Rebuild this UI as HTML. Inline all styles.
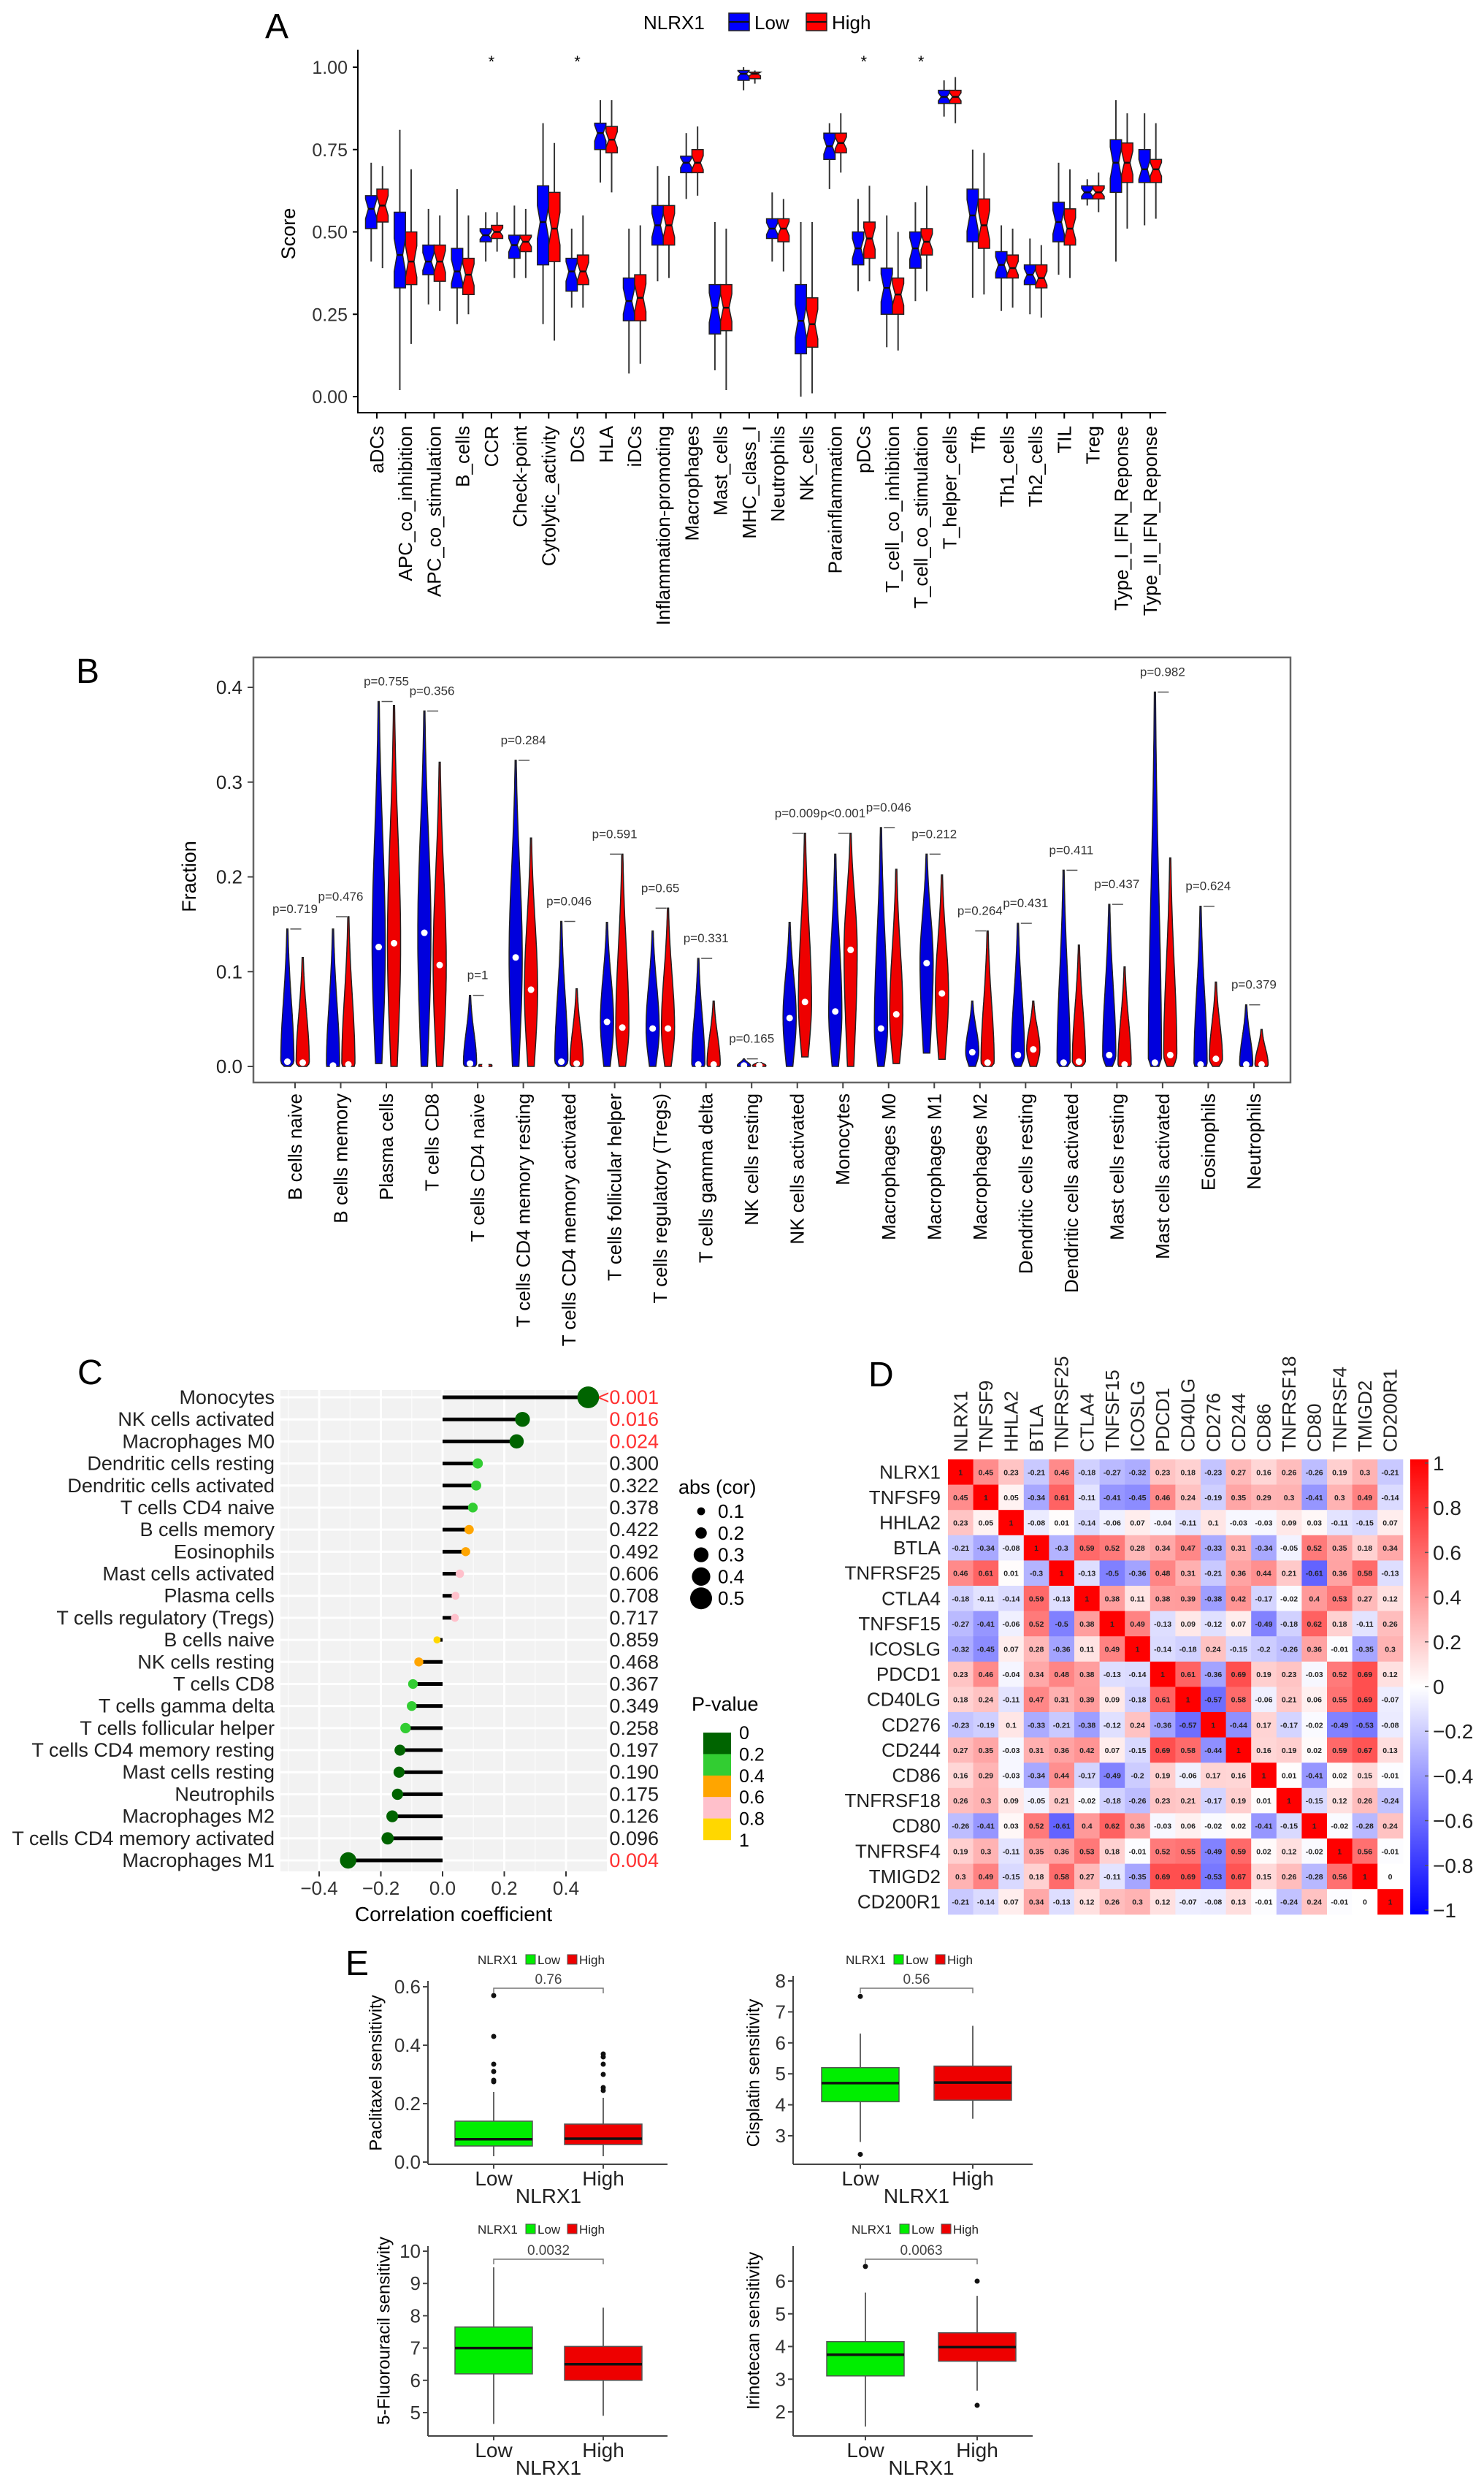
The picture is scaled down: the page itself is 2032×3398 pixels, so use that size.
<!DOCTYPE html>
<html><head><meta charset="utf-8"><style>
html,body{margin:0;padding:0;background:#fff;}
svg{display:block;font-family:"Liberation Sans",Arial,sans-serif;}
</style></head><body>
<svg id="fig" xmlns="http://www.w3.org/2000/svg" width="2032" height="3398" viewBox="0 0 2032 3398">
<rect x="0" y="0" width="2032" height="3398" fill="#fff"/>
</svg>
<script>
// ---------- Panel A data ----------
const aCats=["aDCs","APC_co_inhibition","APC_co_stimulation","B_cells","CCR","Check-point","Cytolytic_activity","DCs","HLA","iDCs","Inflammation-promoting","Macrophages","Mast_cells","MHC_class_I","Neutrophils","NK_cells","Parainflammation","pDCs","T_cell_co_inhibition","T_cell_co_stimulation","T_helper_cells","Tfh","Th1_cells","Th2_cells","TIL","Treg","Type_I_IFN_Reponse","Type_II_IFN_Reponse"];
const aLowQ1=[0.51,0.33,0.37,0.33,0.47,0.42,0.40,0.32,0.75,0.23,0.46,0.68,0.19,0.96,0.48,0.13,0.72,0.40,0.25,0.39,0.89,0.47,0.36,0.34,0.47,0.60,0.62,0.65];
const aLowMed=[0.57,0.43,0.41,0.38,0.49,0.46,0.53,0.38,0.80,0.29,0.52,0.71,0.27,0.98,0.51,0.23,0.76,0.45,0.33,0.45,0.91,0.55,0.40,0.37,0.53,0.62,0.71,0.69];
const aLowQ3=[0.61,0.56,0.46,0.45,0.51,0.49,0.64,0.42,0.83,0.36,0.58,0.73,0.34,0.99,0.54,0.34,0.80,0.50,0.39,0.50,0.93,0.63,0.44,0.40,0.59,0.64,0.78,0.75];
const aLowMin=[0.41,0.02,0.28,0.22,0.41,0.36,0.22,0.27,0.65,0.07,0.35,0.60,0.08,0.93,0.41,0.00,0.63,0.32,0.15,0.29,0.85,0.30,0.26,0.25,0.37,0.58,0.41,0.52];
const aLowMax=[0.71,0.81,0.57,0.63,0.56,0.58,0.83,0.51,0.90,0.51,0.70,0.80,0.53,1.00,0.62,0.53,0.83,0.60,0.55,0.59,0.96,0.75,0.52,0.48,0.71,0.66,0.90,0.86];
const aHighQ1=[0.53,0.34,0.35,0.31,0.48,0.44,0.41,0.34,0.74,0.23,0.46,0.68,0.20,0.965,0.47,0.15,0.74,0.42,0.25,0.43,0.89,0.45,0.36,0.33,0.46,0.60,0.65,0.65];
const aHighMed=[0.58,0.41,0.41,0.37,0.50,0.47,0.51,0.38,0.78,0.30,0.52,0.71,0.27,0.98,0.51,0.22,0.77,0.48,0.31,0.47,0.91,0.52,0.39,0.36,0.51,0.62,0.71,0.69];
const aHighQ3=[0.63,0.50,0.46,0.42,0.52,0.49,0.62,0.43,0.82,0.37,0.58,0.75,0.34,0.985,0.54,0.30,0.80,0.53,0.36,0.51,0.93,0.60,0.43,0.40,0.57,0.64,0.77,0.72];
const aHighMin=[0.39,0.16,0.26,0.25,0.44,0.36,0.17,0.27,0.62,0.10,0.36,0.61,0.02,0.95,0.38,0.01,0.68,0.35,0.14,0.32,0.83,0.31,0.27,0.24,0.36,0.56,0.51,0.54];
const aHighMax=[0.70,0.69,0.55,0.55,0.56,0.57,0.77,0.55,0.90,0.52,0.67,0.82,0.51,0.99,0.60,0.53,0.86,0.64,0.50,0.64,0.97,0.74,0.51,0.46,0.69,0.68,0.86,0.83];
const aStars=[4,7,17,19];
const aTicks=[0,0.25,0.5,0.75,1];
const aTickLabels=["0.00","0.25","0.50","0.75","1.00"];

// ---------- Panel B data ----------
const bCats=["B cells naive","B cells memory","Plasma cells","T cells CD8","T cells CD4 naive","T cells CD4 memory resting","T cells CD4 memory activated","T cells follicular helper","T cells regulatory (Tregs)","T cells gamma delta","NK cells resting","NK cells activated","Monocytes","Macrophages M0","Macrophages M1","Macrophages M2","Dendritic cells resting","Dendritic cells activated","Mast cells resting","Mast cells activated","Eosinophils","Neutrophils"];
const bBlueMax=[0.145,0.145,0.385,0.375,0.075,0.323,0.153,0.152,0.143,0.114,0.008,0.152,0.224,0.252,0.224,0.069,0.151,0.207,0.171,0.395,0.169,0.065];
const bBlueMed=[0.005,0.001,0.126,0.141,0.003,0.115,0.005,0.047,0.040,0.002,0.001,0.051,0.058,0.040,0.109,0.015,0.012,0.004,0.012,0.004,0.002,0.002];
const bBlueMin=[0,0,0.003,0,0,0,0,0,0,0,0,0,0,0,0.014,0,0,0,0,0,0,0];
const bRedMax=[0.115,0.158,0.381,0.321,0.002,0.241,0.082,0.224,0.167,0.069,0.004,0.246,0.246,0.208,0.202,0.143,0.069,0.128,0.105,0.220,0.089,0.039];
const bRedMed=[0.004,0.002,0.130,0.107,0.001,0.081,0.003,0.041,0.040,0.002,0.001,0.068,0.123,0.055,0.077,0.004,0.018,0.005,0.002,0.012,0.008,0.002];
const bRedMin=[0,0,0,0,0,0,0,0,0,0,0,0.01,0,0.003,0.0075,0,0,0,0,0,0,0];
const bP=["p=0.719","p=0.476","p=0.755","p=0.356","p=1","p=0.284","p=0.046","p=0.591","p=0.65","p=0.331","p=0.165","p=0.009","p<0.001","p=0.046","p=0.212","p=0.264","p=0.431","p=0.411","p=0.437","p=0.982","p=0.624","p=0.379"];
const bTicks=[0,0.1,0.2,0.3,0.4];

// ---------- Panel C data ----------
const cCats=["Monocytes","NK cells activated","Macrophages M0","Dendritic cells resting","Dendritic cells activated","T cells CD4 naive","B cells memory","Eosinophils","Mast cells activated","Plasma cells","T cells regulatory (Tregs)","B cells naive","NK cells resting","T cells CD8","T cells gamma delta","T cells follicular helper","T cells CD4 memory resting","Mast cells resting","Neutrophils","Macrophages M2","T cells CD4 memory activated","Macrophages M1"];
const cCor=[0.472,0.259,0.24,0.114,0.109,0.098,0.086,0.075,0.056,0.042,0.04,-0.018,-0.077,-0.096,-0.1,-0.12,-0.138,-0.141,-0.146,-0.163,-0.178,-0.306];
const cP=[0.0005,0.016,0.024,0.300,0.322,0.378,0.422,0.492,0.606,0.708,0.717,0.859,0.468,0.367,0.349,0.258,0.197,0.190,0.175,0.126,0.096,0.004];
const cPText=["<0.001","0.016","0.024","0.300","0.322","0.378","0.422","0.492","0.606","0.708","0.717","0.859","0.468","0.367","0.349","0.258","0.197","0.190","0.175","0.126","0.096","0.004"];
const cTicks=[-0.4,-0.2,0,0.2,0.4];
const cSizeLegend=[0.1,0.2,0.3,0.4,0.5];
const cPLegend=["0","0.2","0.4","0.6","0.8","1"];

// ---------- Panel D data ----------
const dGenes=["NLRX1","TNFSF9","HHLA2","BTLA","TNFRSF25","CTLA4","TNFSF15","ICOSLG","PDCD1","CD40LG","CD276","CD244","CD86","TNFRSF18","CD80","TNFRSF4","TMIGD2","CD200R1"];
const dRow0=[1,0.45,0.23,-0.21,0.46,-0.18,-0.27,-0.32,0.23,0.18,-0.23,0.27,0.16,0.26,-0.26,0.19,0.3,-0.21];
const dRow1=[0.45,1,0.05,-0.34,0.61,-0.11,-0.41,-0.45,0.46,0.24,-0.19,0.35,0.29,0.3,-0.41,0.3,0.49,-0.14];
const dRow2=[0.23,0.05,1,-0.08,0.01,-0.14,-0.06,0.07,-0.04,-0.11,0.1,-0.03,-0.03,0.09,0.03,-0.11,-0.15,0.07];
const dRow3=[-0.21,-0.34,-0.08,1,-0.3,0.59,0.52,0.28,0.34,0.47,-0.33,0.31,-0.34,-0.05,0.52,0.35,0.18,0.34];
const dRow4=[0.46,0.61,0.01,-0.3,1,-0.13,-0.5,-0.36,0.48,0.31,-0.21,0.36,0.44,0.21,-0.61,0.36,0.58,-0.13];
const dRow5=[-0.18,-0.11,-0.14,0.59,-0.13,1,0.38,0.11,0.38,0.39,-0.38,0.42,-0.17,-0.02,0.4,0.53,0.27,0.12];
const dRow6=[-0.27,-0.41,-0.06,0.52,-0.5,0.38,1,0.49,-0.13,0.09,-0.12,0.07,-0.49,-0.18,0.62,0.18,-0.11,0.26];
const dRow7=[-0.32,-0.45,0.07,0.28,-0.36,0.11,0.49,1,-0.14,-0.18,0.24,-0.15,-0.2,-0.26,0.36,-0.01,-0.35,0.3];
const dRow8=[0.23,0.46,-0.04,0.34,0.48,0.38,-0.13,-0.14,1,0.61,-0.36,0.69,0.19,0.23,-0.03,0.52,0.69,0.12];
const dRow9=[0.18,0.24,-0.11,0.47,0.31,0.39,0.09,-0.18,0.61,1,-0.57,0.58,-0.06,0.21,0.06,0.55,0.69,-0.07];
const dRow10=[-0.23,-0.19,0.1,-0.33,-0.21,-0.38,-0.12,0.24,-0.36,-0.57,1,-0.44,0.17,-0.17,-0.02,-0.49,-0.53,-0.08];
const dRow11=[0.27,0.35,-0.03,0.31,0.36,0.42,0.07,-0.15,0.69,0.58,-0.44,1,0.16,0.19,0.02,0.59,0.67,0.13];
const dRow12=[0.16,0.29,-0.03,-0.34,0.44,-0.17,-0.49,-0.2,0.19,-0.06,0.17,0.16,1,0.01,-0.41,0.02,0.15,-0.01];
const dRow13=[0.26,0.3,0.09,-0.05,0.21,-0.02,-0.18,-0.26,0.23,0.21,-0.17,0.19,0.01,1,-0.15,0.12,0.26,-0.24];
const dRow14=[-0.26,-0.41,0.03,0.52,-0.61,0.4,0.62,0.36,-0.03,0.06,-0.02,0.02,-0.41,-0.15,1,-0.02,-0.28,0.24];
const dRow15=[0.19,0.3,-0.11,0.35,0.36,0.53,0.18,-0.01,0.52,0.55,-0.49,0.59,0.02,0.12,-0.02,1,0.56,-0.01];
const dRow16=[0.3,0.49,-0.15,0.18,0.58,0.27,-0.11,-0.35,0.69,0.69,-0.53,0.67,0.15,0.26,-0.28,0.56,1,0];
const dRow17=[-0.21,-0.14,0.07,0.34,-0.13,0.12,0.26,0.3,0.12,-0.07,-0.08,0.13,-0.01,-0.24,0.24,-0.01,0,1];
const dMatrix=[dRow0,dRow1,dRow2,dRow3,dRow4,dRow5,dRow6,dRow7,dRow8,dRow9,dRow10,dRow11,dRow12,dRow13,dRow14,dRow15,dRow16,dRow17];
const dBarTicks=[1,0.8,0.6,0.4,0.2,0,-0.2,-0.4,-0.6,-0.8,-1];

// ---------- Panel E data ----------
const eDrugs=["Paclitaxel","Cisplatin","5-Fluorouracil","Irinotecan"];
const eLowQ1=[0.055,4.1,6.2,3.1];
const eLowMed=[0.078,4.7,7.0,3.75];
const eLowQ3=[0.14,5.2,7.65,4.15];
const eLowMin=[0.02,2.8,4.65,1.55];
const eLowMax=[0.24,6.3,9.5,5.65];
const eHighQ1=[0.06,4.15,6.0,3.55];
const eHighMed=[0.08,4.72,6.5,3.98];
const eHighQ3=[0.13,5.25,7.05,4.42];
const eHighMin=[0.02,3.55,4.9,2.65];
const eHighMax=[0.22,6.55,8.25,5.55];
const eLowOut=[[0.57,0.43,0.335,0.31,0.28,0.275],[7.5,2.4],[],[6.45]];
const eHighOut=[[0.37,0.36,0.335,0.30,0.255,0.245],[],[],[6.0,2.2]];
const ePval=["0.76","0.56","0.0032","0.0063"];
const eTicks=[[0,0.2,0.4,0.6],[3,4,5,6,7,8],[5,6,7,8,9,10],[2,3,4,5,6]];
const eTickLabels=[["0.0","0.2","0.4","0.6"],["3","4","5","6","7","8"],["5","6","7","8","9","10"],["2","3","4","5","6"]];

// ---------- helpers ----------
const NS="http://www.w3.org/2000/svg";
const svg=document.getElementById('fig');
function mk(tag,attrs,parent){const e=document.createElementNS(NS,tag);for(const k in attrs)e.setAttribute(k,attrs[k]);(parent||svg).appendChild(e);return e;}
function txt(s,attrs,parent){const e=mk('text',attrs,parent);e.textContent=s;return e;}
function grp(parent){return mk('g',{},parent);}

// panel letters
[["A",363,52],["B",104,935],["C",106,1895],["D",1189,1898],["E",473,2704]].forEach(p=>{
  const t=txt(p[0],{x:p[1],y:p[2],'font-size':48,fill:'#000'});
  
  
});

// ================= PANEL A =================
(function(){
  const g=grp();
  
  
  const y=v=>543-v*451;
  const x=i=>516+i*39.22;
  const W=15.5;
  // legend
  const lg=grp(g);
  
  
  txt("NLRX1",{x:881,y:40,'font-size':26,fill:'#000'},lg);
  const lb=mk('rect',{x:998,y:18,width:28,height:24,fill:'#0000ff',stroke:'#222','stroke-width':1.5},lg);
  
  
  mk('line',{x1:998,y1:30,x2:1026,y2:30,stroke:'#111','stroke-width':2},lg);
  txt("Low",{x:1033,y:40,'font-size':26},lg);
  const lr=mk('rect',{x:1104,y:18,width:28,height:24,fill:'#ff0000',stroke:'#222','stroke-width':1.5},lg);
  
  
  mk('line',{x1:1104,y1:30,x2:1132,y2:30,stroke:'#111','stroke-width':2},lg);
  txt("High",{x:1139,y:40,'font-size':26},lg);
  // axes
  const ya=mk('line',{x1:490,y1:68,x2:490,y2:566,stroke:'#000','stroke-width':2},g);
  
  
  const xa=mk('line',{x1:489,y1:565,x2:1597,y2:565,stroke:'#000','stroke-width':2},g);
  
  
  aTicks.forEach((v,k)=>{
    mk('line',{x1:483,y1:y(v),x2:490,y2:y(v),stroke:'#000','stroke-width':2},g);
    const t=txt(aTickLabels[k],{x:476,y:y(v)+9,'font-size':25,'text-anchor':'end',fill:'#333'},g);
    
    
  });
  const yt=txt("Score",{x:395,y:320,'font-size':27,'text-anchor':'middle','dominant-baseline':'central',transform:'rotate(-90 395 320)'},g);
  
  
  function box(x0,x1,q1,med,q3,mn,mx,col,parent){
    const xc=(x0+x1)/2, ind=(x1-x0)*0.25;
    const n=Math.min(0.3*(q3-q1),0.05);
    const yu=Math.max(y(med+n),y(q3)), yl=Math.min(y(med-n),y(q1)), ym=y(med);
    mk('line',{x1:xc,y1:y(mx),x2:xc,y2:y(q3),stroke:'#333','stroke-width':2},parent);
    mk('line',{x1:xc,y1:y(q1),x2:xc,y2:y(mn),stroke:'#333','stroke-width':2},parent);
    const d=`M${x0},${y(q3)}L${x1},${y(q3)}L${x1},${yu}L${x1-ind},${ym}L${x1},${yl}L${x1},${y(q1)}L${x0},${y(q1)}L${x0},${yl}L${x0+ind},${ym}L${x0},${yu}Z`;
    const p=mk('path',{d:d,fill:col,stroke:'#222','stroke-width':1.5},parent);
    mk('line',{x1:x0+ind,y1:ym,x2:x1-ind,y2:ym,stroke:'#111','stroke-width':2.5},parent);
    return p;
  }
  aCats.forEach((c,i)=>{
    const cx=x(i);
    const cg=grp(g);
    
    
    const b1=box(cx-W,cx,aLowQ1[i],aLowMed[i],aLowQ3[i],aLowMin[i],aLowMax[i],'#0000ff',cg);
    
    
    const b2=box(cx,cx+W,aHighQ1[i],aHighMed[i],aHighQ3[i],aHighMin[i],aHighMax[i],'#ff0000',cg);
    
    
    mk('line',{x1:cx,y1:565,x2:cx,y2:573,stroke:'#000','stroke-width':2},g);
    const t=txt(c,{x:cx,y:583,'font-size':26,'text-anchor':'end','dominant-baseline':'central',transform:`rotate(-90 ${cx} 583)`},g);
    
    
  });
  aStars.forEach(i=>{
    const s=txt("*",{x:x(i),y:92,'font-size':22,'text-anchor':'middle'},g);
    
    
  });
})();

// ================= PANEL B =================
(function(){
  const g=grp();
  
  
  const y=v=>1460-v*1297.5;
  const x=i=>404+i*62.52;
  const fr=mk('rect',{x:347,y:900,width:1420,height:582,fill:'none',stroke:'#666','stroke-width':2.5},g);
  
  
  bTicks.forEach(v=>{
    mk('line',{x1:339,y1:y(v),x2:347,y2:y(v),stroke:'#444','stroke-width':2},g);
    const t=txt(v.toFixed(1),{x:332,y:y(v)+9,'font-size':26,'text-anchor':'end',fill:'#222'},g);
    
    
  });
  const yt=txt("Fraction",{x:259,y:1200,'font-size':27,'text-anchor':'middle','dominant-baseline':'central',transform:'rotate(-90 259 1200)'},g);
  
  
  function violin(cx,mn,med,mx,col,parent){
    const N=48, Wd=9;
    const sU=Math.max((mx-med)/2.2,0.002), sL=Math.max((med-mn)/1.2,0.004);
    const R=[],L=[];
    for(let k=0;k<=N;k++){
      const v=mn+(mx-mn)*k/N;
      const s=v>med?sU:sL;
      const w=Math.max(Wd*Math.exp(-0.5*Math.pow((v-med)/s,2)),0.6);
      R.push([cx+w,y(v)]);L.push([cx-w,y(v)]);
    }
    let d='M'+R.map(p=>p[0].toFixed(1)+','+p[1].toFixed(1)).join('L');
    d+='L'+L.reverse().map(p=>p[0].toFixed(1)+','+p[1].toFixed(1)).join('L')+'Z';
    return mk('path',{d:d,fill:col,stroke:'#222','stroke-width':1.5},parent);
  }
  bCats.forEach((c,i)=>{
    const cx=x(i), bx=cx-10.5, rx=cx+10.5;
    const cg=grp(g);
    
    
    const v1=violin(bx,bBlueMin[i],bBlueMed[i],bBlueMax[i],'#0000dd',cg);
    
    
    const v2=violin(rx,bRedMin[i],bRedMed[i],bRedMax[i],'#ee0000',cg);
    
    
    const d1=mk('circle',{cx:bx,cy:y(bBlueMed[i]),r:4.5,fill:'#fff'},cg);
    
    
    const d2=mk('circle',{cx:rx,cy:y(bRedMed[i]),r:4.5,fill:'#fff'},cg);
    
    
    const top=Math.max(bBlueMax[i],bRedMax[i]);
    mk('line',{x1:bx+4,y1:y(top),x2:rx-2,y2:y(top),stroke:'#555','stroke-width':1.5},cg);
    const pt=txt(bP[i],{x:cx,y:y(top)-22,'font-size':17,'text-anchor':'middle',fill:'#333'},cg);
    
    
    mk('line',{x1:cx,y1:1482,x2:cx,y2:1490,stroke:'#444','stroke-width':2},g);
    const t=txt(c,{x:cx,y:1497,'font-size':26,'text-anchor':'end','dominant-baseline':'central',transform:`rotate(-90 ${cx} 1497)`},g);
    
    
  });
})();

// ================= PANEL C =================
(function(){
  const g=grp();
  
  
  const x=v=>606+v*422.5;
  const y=i=>1913+i*30.19;
  const bg=mk('rect',{x:384,y:1903,width:447,height:659,fill:'#f2f2f2'},g);
  
  
  [-0.5,-0.3,-0.1,0.1,0.3].forEach(v=>{if(x(v)>384)mk('line',{x1:x(v),y1:1903,x2:x(v),y2:2562,stroke:'#fafafa','stroke-width':1.5},g);});
  cTicks.forEach(v=>mk('line',{x1:x(v),y1:1903,x2:x(v),y2:2562,stroke:'#fff','stroke-width':3},g));
  cCats.forEach((c,i)=>mk('line',{x1:384,y1:y(i),x2:831,y2:y(i),stroke:'#fff','stroke-width':3},g));
  const colFor=p=>p<0.2?'#006400':p<0.4?'#32cd32':p<0.6?'#ffa500':p<0.8?'#ffc0cb':'#ffd700';
  cCats.forEach((c,i)=>{
    const r=grp(g);
    
    
    mk('line',{x1:x(0),y1:y(i),x2:x(cCor[i]),y2:y(i),stroke:'#000','stroke-width':5},r);
    const dot=mk('circle',{cx:x(cCor[i]),cy:y(i),r:4.5+22*Math.abs(cCor[i]),fill:colFor(cP[i])},r);
    
    
    const lab=txt(c,{x:376,y:y(i)+9,'font-size':27,'text-anchor':'end',fill:'#222'},g);
    
    
    const pv=txt(cPText[i],{x:902,y:y(i)+9,'font-size':27,'text-anchor':'end',fill:cP[i]<0.05?'#ff3030':'#222'},g);
    
    
  });
  cTicks.forEach(v=>{
    mk('line',{x1:x(v),y1:2562,x2:x(v),y2:2569,stroke:'#333','stroke-width':2},g);
    const t=txt((v<0?'\u2212':'')+Math.abs(v).toFixed(1),{x:x(v),y:2594,'font-size':26,'text-anchor':'middle',fill:'#333'},g);
    
    
  });
  const xt=txt("Correlation coefficient",{x:621,y:2630,'font-size':28,'text-anchor':'middle'},g);
  
  
  // size legend
  const sl=grp(g);
  
  
  txt("abs (cor)",{x:929,y:2045,'font-size':27},sl);
  cSizeLegend.forEach((v,k)=>{
    const yy=2069+k*29.8;
    mk('circle',{cx:960,cy:yy,r:1.5+27*v*0.5+ (v*0),fill:'#000'},sl).setAttribute('r',(3+24*v).toFixed(1));
    txt(v.toFixed(1),{x:983,y:yy+9,'font-size':26},sl);
  });
  // p legend
  const pl=grp(g);
  
  
  txt("P-value",{x:947,y:2342,'font-size':27},pl);
  ['#006400','#32cd32','#ffa500','#ffc0cb','#ffd700'].forEach((c,k)=>mk('rect',{x:963,y:2372+k*29.4,width:38,height:29.6,fill:c},pl));
  cPLegend.forEach((s,k)=>txt(s,{x:1012,y:2372+k*29.4+9,'font-size':25},pl));
})();

// ================= PANEL D =================
(function(){
  const g=grp();
  
  
  const x0=1298,y0=1998,cw=34.6,ch=34.6;
  function col(v){
    const t=Math.min(1,Math.abs(v));
    const c=Math.round(255*(1-t));
    return v>=0?`rgb(255,${c},${c})`:`rgb(${c},${c},255)`;
  }
  dMatrix.forEach((row,i)=>{
    row.forEach((v,j)=>{
      const r=mk('rect',{x:x0+j*cw,y:y0+i*ch,width:cw+0.5,height:ch+0.5,fill:col(v)},g);
      
      
      txt(String(v),{x:x0+(j+0.5)*cw,y:y0+(i+0.5)*ch+4,'font-size':10.5,'font-weight':'bold','text-anchor':'middle',fill:'#222'},g);
    });
  });
  dGenes.forEach((s,i)=>{
    const rl=txt(s,{x:1288,y:y0+(i+0.5)*ch+9,'font-size':26,'text-anchor':'end',fill:'#222'},g);
    
    
    const cx=x0+(i+0.5)*cw;
    const cl=txt(s,{x:cx,y:1988,'font-size':26,'text-anchor':'start','dominant-baseline':'central',transform:`rotate(-90 ${cx} 1988)`,fill:'#222'},g);
    
    
  });
  const defs=mk('defs',{},g);
  const lgd=mk('linearGradient',{id:'cbar',x1:0,y1:0,x2:0,y2:1},defs);
  mk('stop',{offset:'0','stop-color':'#ff0000'},lgd);
  mk('stop',{offset:'0.5','stop-color':'#ffffff'},lgd);
  mk('stop',{offset:'1','stop-color':'#0000ff'},lgd);
  const cb=mk('rect',{x:1931,y:1998,width:25,height:623,fill:'url(#cbar)'},g);
  
  
  const cy=v=>2003+(1-v)/2*612;
  dBarTicks.forEach(v=>{
    mk('line',{x1:1951,y1:cy(v),x2:1956,y2:cy(v),stroke:'#555','stroke-width':1.5},g);
    const t=txt((v<0?'\u2212':'')+(v===1||v===-1||v===0?String(Math.abs(v)):Math.abs(v).toFixed(1)),{x:1962,y:cy(v)+10,'font-size':28,fill:'#222'},g);
    
    
  });
})();

// ================= PANEL E =================
(function(){
  const cfg=[
    {ax:586,top:2712,bot:2963,right:914,v0:0,y0:2960,v1:0.6,y1:2720,lx:676,hx:826,legx:654,legy:2683,tx:515,ty:2838,br:2722,lb:2992,nb:3016,title:"Paclitaxel sensitivity"},
    {ax:1086,top:2705,bot:2963,right:1414,v0:3,y0:2924,v1:8,y1:2712,lx:1178,hx:1332,legx:1158,legy:2683,tx:1032,ty:2838,br:2722,lb:2992,nb:3016,title:"Cisplatin sensitivity"},
    {ax:586,top:3075,bot:3335,right:914,v0:5,y0:3303,v1:10,y1:3082,lx:676,hx:826,legx:654,legy:3052,tx:526,ty:3191,br:3093,lb:3364,nb:3388,title:"5-Fluorouracil sensitivity"},
    {ax:1086,top:3075,bot:3335,right:1414,v0:2,y0:3302,v1:6,y1:3123,lx:1185,hx:1338,legx:1166,legy:3052,tx:1032,ty:3191,br:3093,lb:3364,nb:3388,title:"Irinotecan sensitivity"}
  ];
  cfg.forEach((c,k)=>{
    const g=grp();
    
    
    const y=v=>c.y0+(v-c.v0)*(c.y1-c.y0)/(c.v1-c.v0);
    // legend
    const lg=grp(g);
    
    
    txt("NLRX1",{x:c.legx,y:c.legy+6,'font-size':17,fill:'#222'},lg);
    mk('rect',{x:c.legx+66,y:c.legy-7,width:13,height:13,fill:'#00ee00',stroke:'#555','stroke-width':1},lg);
    txt("Low",{x:c.legx+82,y:c.legy+6,'font-size':17,fill:'#222'},lg);
    mk('rect',{x:c.legx+123,y:c.legy-7,width:13,height:13,fill:'#ee0000',stroke:'#555','stroke-width':1},lg);
    txt("High",{x:c.legx+139,y:c.legy+6,'font-size':17,fill:'#222'},lg);
    // axes
    mk('line',{x1:c.ax,y1:c.top,x2:c.ax,y2:c.bot,stroke:'#444','stroke-width':2},g);
    mk('line',{x1:c.ax,y1:c.bot,x2:c.right,y2:c.bot,stroke:'#444','stroke-width':2},g);
    eTicks[k].forEach((v,m)=>{
      mk('line',{x1:c.ax-7,y1:y(v),x2:c.ax,y2:y(v),stroke:'#444','stroke-width':2},g);
      const t=txt(eTickLabels[k][m],{x:c.ax-10,y:y(v)+9,'font-size':26,'text-anchor':'end',fill:'#333'},g);
      
      
    });
    const yt=txt(c.title,{x:c.tx,y:c.ty,'font-size':24,'text-anchor':'middle','dominant-baseline':'central',transform:`rotate(-90 ${c.tx} ${c.ty})`},g);
    
    
    function bx(cx,q1,md,q3,mn,mx,outs,fill,name){
      const bg=grp(g);
      
      
      mk('line',{x1:cx,y1:y(mx),x2:cx,y2:y(mn),stroke:'#555','stroke-width':1.8},bg);
      mk('rect',{x:cx-53,y:y(q3),width:106,height:y(q1)-y(q3),fill:fill,stroke:'#555','stroke-width':1.5},bg);
      mk('line',{x1:cx-53,y1:y(md),x2:cx+53,y2:y(md),stroke:'#111','stroke-width':3.5},bg);
      outs.forEach(o=>mk('circle',{cx:cx,cy:y(o),r:3.5,fill:'#111'},bg));
    }
    bx(c.lx,eLowQ1[k],eLowMed[k],eLowQ3[k],eLowMin[k],eLowMax[k],eLowOut[k],'#00ee00','box-low');
    bx(c.hx,eHighQ1[k],eHighMed[k],eHighQ3[k],eHighMin[k],eHighMax[k],eHighOut[k],'#ee0000','box-high');
    // bracket
    mk('path',{d:`M${c.lx},${c.br+7}L${c.lx},${c.br}L${c.hx},${c.br}L${c.hx},${c.br+7}`,fill:'none',stroke:'#777','stroke-width':1.5},g);
    const pt=txt(ePval[k],{x:(c.lx+c.hx)/2,y:c.br-6,'font-size':19,'text-anchor':'middle',fill:'#444'},g);
    
    
    [["Low",c.lx],["High",c.hx]].forEach(p=>{
      mk('line',{x1:p[1],y1:c.bot,x2:p[1],y2:c.bot+6,stroke:'#444','stroke-width':2},g);
      const t=txt(p[0],{x:p[1],y:c.lb,'font-size':28,'text-anchor':'middle',fill:'#222'},g);
      
      
    });
    const xt=txt("NLRX1",{x:(c.lx+c.hx)/2,y:c.nb,'font-size':28,'text-anchor':'middle',fill:'#222'},g);
    
    
  });
})();
</script>
</body></html>
